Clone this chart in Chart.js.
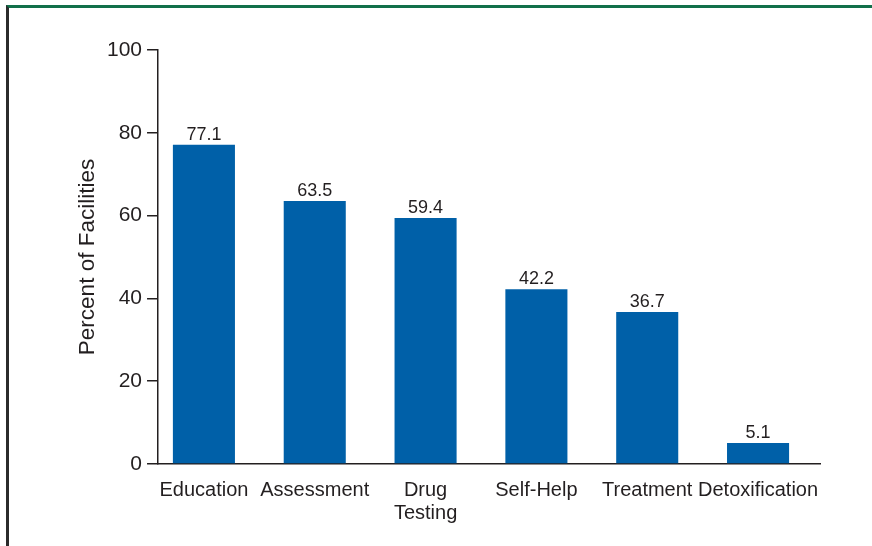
<!DOCTYPE html>
<html>
<head>
<meta charset="utf-8">
<script src="https://cdn.jsdelivr.net/npm/chart.js@4/dist/chart.umd.min.js"></script>
<style>
  body { margin: 0; background: #fff; }
  #wrap { position: relative; width: 872px; height: 546px; overflow: hidden; }
  #frame {
    position: absolute; left: 6px; top: 5px; right: 0; bottom: -10px;
    border-top: 3px solid #11704a; border-left: 3px solid #2b2b2b;
  }
  canvas { position: absolute; left: 0; top: 0; }
</style>
</head>
<body>
<div id="wrap">
  <canvas id="chart" width="872" height="546"></canvas>
  <div id="frame"></div>
</div>
<script>
const categories = ["Education", "Assessment", ["Drug", "Testing"], "Self-Help", "Treatment", "Detoxification"];
const percents = [77.1, 63.5, 59.4, 42.2, 36.7, 5.1];
const yTicks = [0, 20, 40, 60, 80, 100];

const inkColor = "#231f20";
const barColor = "#0060a8";
const fontFamily = "'Liberation Sans', Arial, Helvetica, sans-serif";

// values written above each bar
const valueLabels = {
  id: "valueLabels",
  afterDatasetsDraw(chart) {
    const ctx = chart.ctx;
    const meta = chart.getDatasetMeta(0);
    ctx.save();
    ctx.font = "18px " + fontFamily;
    ctx.fillStyle = inkColor;
    ctx.textAlign = "center";
    ctx.textBaseline = "alphabetic";
    meta.data.forEach((bar, i) => {
      ctx.fillText(percents[i].toFixed(1), bar.x, bar.y - 5);
    });
    ctx.restore();
  },
};

const points = percents.map((v, i) => ({ x: i, y: v }));

new Chart(document.getElementById("chart").getContext("2d"), {
  type: "bar",
  data: {
    datasets: [
      {
        data: points,
        backgroundColor: barColor,
        borderWidth: 0,
        barPercentage: 0.56,
        categoryPercentage: 1,
      },
    ],
  },
  options: {
    responsive: false,
    animation: false,
    layout: { padding: { left: 74, top: 50, right: 52, bottom: 6 } },
    plugins: { legend: { display: false }, tooltip: { enabled: false } },
    scales: {
      x: {
        type: "linear",
        bounds: "data",
        offset: false,
        min: -0.414,
        max: 5.559,
        afterBuildTicks: (scale) => {
          scale.ticks = categories.map((c, i) => ({ value: i }));
        },
        grid: { display: false, drawTicks: false, offset: false },
        border: { display: true, color: inkColor, width: 1.5 },
        ticks: {
          autoSkip: false,
          maxRotation: 0,
          padding: 15,
          color: inkColor,
          font: { family: fontFamily, size: 20, lineHeight: 1.15 },
          callback: (value) => categories[value],
        },
      },
      y: {
        min: 0,
        max: 100,
        afterBuildTicks: (scale) => {
          scale.ticks = yTicks.map((v) => ({ value: v }));
        },
        grid: {
          drawOnChartArea: false,
          drawTicks: true,
          tickLength: 11,
          color: inkColor,
          lineWidth: 1.5,
        },
        border: { display: true, color: inkColor, width: 1.5 },
        ticks: {
          padding: 5,
          color: inkColor,
          font: { family: fontFamily, size: 21 },
        },
        title: {
          display: true,
          text: "Percent of Facilities",
          color: inkColor,
          padding: { top: 0, bottom: 1 },
          font: { family: fontFamily, size: 22.5 },
        },
      },
    },
  },
  plugins: [valueLabels],
});
</script>
</body>
</html>
